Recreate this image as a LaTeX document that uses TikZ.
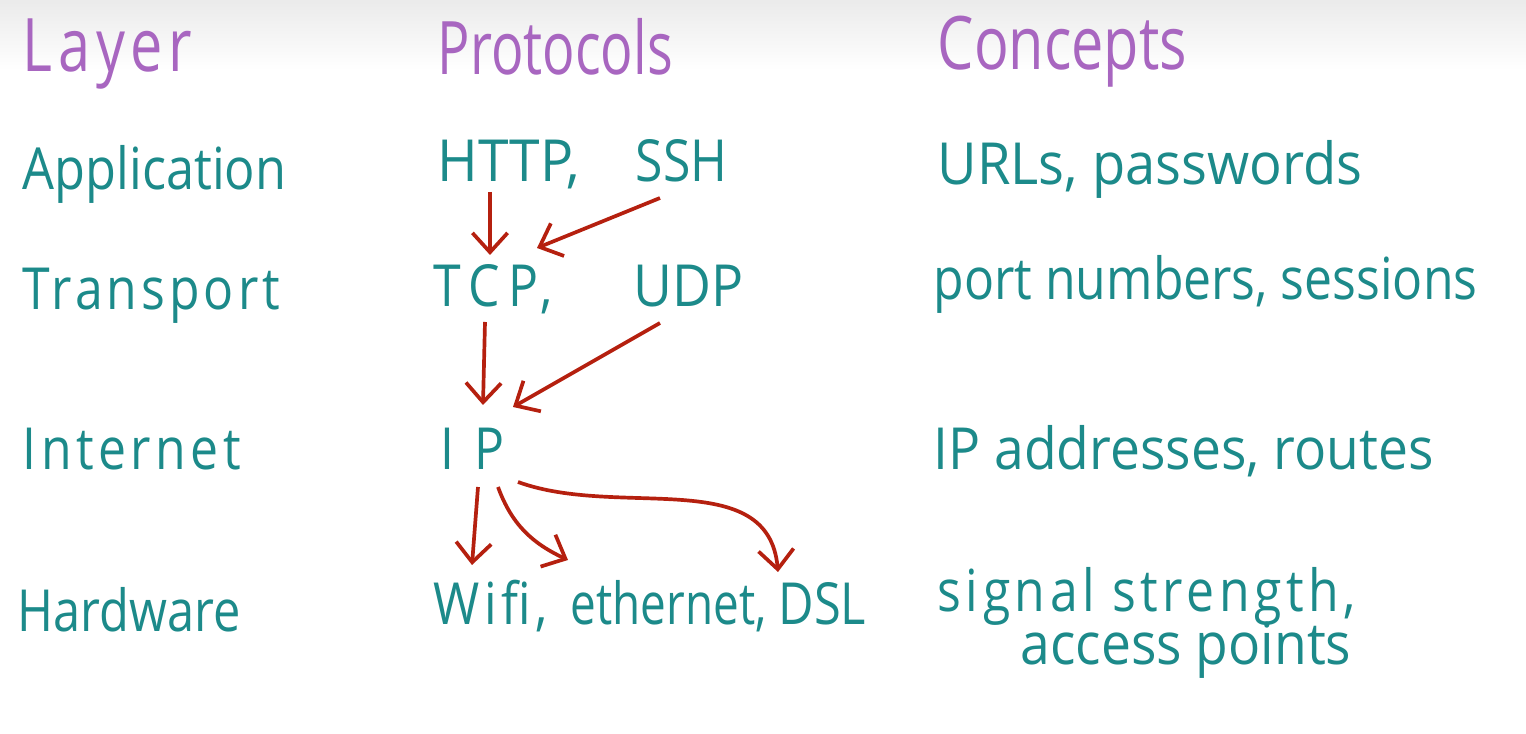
\documentclass[tikz,border=0pt]{standalone}
\usepackage{fontspec}
\setmainfont{Open Sans}
\usepackage{graphicx}
\usetikzlibrary{arrows.meta}
\definecolor{headc}{HTML}{A866C0}
\definecolor{textc}{HTML}{1C8A8A}
\definecolor{arrc}{HTML}{B5200F}
\tikzset{
  head/.style={anchor=base west, inner sep=0pt, text=headc, font=\fontsize{21}{24}\selectfont},
  body/.style={anchor=base west, inner sep=0pt, text=textc, font=\fontsize{16.5}{20}\selectfont},
  arr/.style={draw=arrc, line width=1.05pt, -{Straight Barb[length=5.5pt,width=10pt,line width=1.05pt]}},
}
\newcommand{\sx}[2]{\scalebox{#1}[1]{#2}}
\newcommand{\ls}[2]{\scalebox{0.86}[1]{\addfontfeature{LetterSpace=#1}#2}}
\begin{document}
\begin{tikzpicture}[x=0.01cm,y=-0.01cm]
\useasboundingbox (0,0) rectangle (1526,734);
\fill[white] (0,0) rectangle (1526,734);
\shade[top color=black!8, bottom color=white] (0,0) rectangle (1526,70);
% headers
\node[head] (hlayer) at (22,72) {\sx{0.78}{\addfontfeature{LetterSpace=10}Layer}};
\node[head] (hproto) at (437,75) {\sx{0.73}{Protocols}};
\node[head] (hconc) at (937,70) {\sx{0.78}{Concepts}};
% layers
\node[body] (lapp) at (22,190) {\sx{0.87}{Application}};
\node[body] (ltra) at (22,310) {\ls{8}{Transport}};
\node[body] (lint) at (22,470) {\ls{9}{Internet}};
\node[body] (lhw) at (17,632) {\sx{0.84}{Hardware}};
% protocols
\node[body] (http) at (437,182) {\sx{0.95}{HTTP,}};
\node[body] (ssh) at (635,182) {\sx{0.86}{SSH}};
\node[body] (tcp) at (433,307) {\ls{17}{TCP,}};
\node[body] (udp) at (633,307) {\sx{0.92}{UDP}};
\node[body] (ip) at (440,470) {\ls{40}{IP}};
\node[body] (wifi) at (433,625) {\ls{9}{Wifi,}};
\node[body] (eth) at (570,625) {\sx{0.79}{ethernet,}};
\node[body] (dsl) at (778,625) {\sx{0.84}{DSL}};
% concepts
\node[body] (capp) at (937,185) {\sx{0.935}{URLs, passwords}};
\node[body] (ctra) at (933,300) {\sx{0.86}{port numbers, sessions}};
\node[body] (cint) at (933,470) {\sx{0.92}{IP addresses, routes}};
\node[body] (chw1) at (937,612) {\ls{9}{signal strength,}};
\node[body] (chw2) at (1020,665) {\sx{0.92}{access points}};
% arrows
\draw[arr] ([shift={(53,10)}]http.base west) -- ([shift={(57,-52)}]tcp.base west);
\draw[arr] ([shift={(25,16)}]ssh.base west) -- ([shift={(104,-59)}]tcp.base west);
\draw[arr] ([shift={(52,15)}]tcp.base west) -- ([shift={(43,-65)}]ip.base west);
\draw[arr] ([shift={(27,16)}]udp.base west) -- ([shift={(73,-63)}]ip.base west);
\draw[arr] ([shift={(38,17)}]ip.base west) -- ([shift={(39,-60)}]wifi.base west);
\draw[arr] ([shift={(58,17)}]ip.base west) to[out=-70,in=155] ([shift={(-2,-65)}]eth.base west);
\draw[arr] ([shift={(78,12)}]ip.base west) to[out=-20,in=95] ([shift={(0,-53)}]dsl.base west);
\end{tikzpicture}
\end{document}
